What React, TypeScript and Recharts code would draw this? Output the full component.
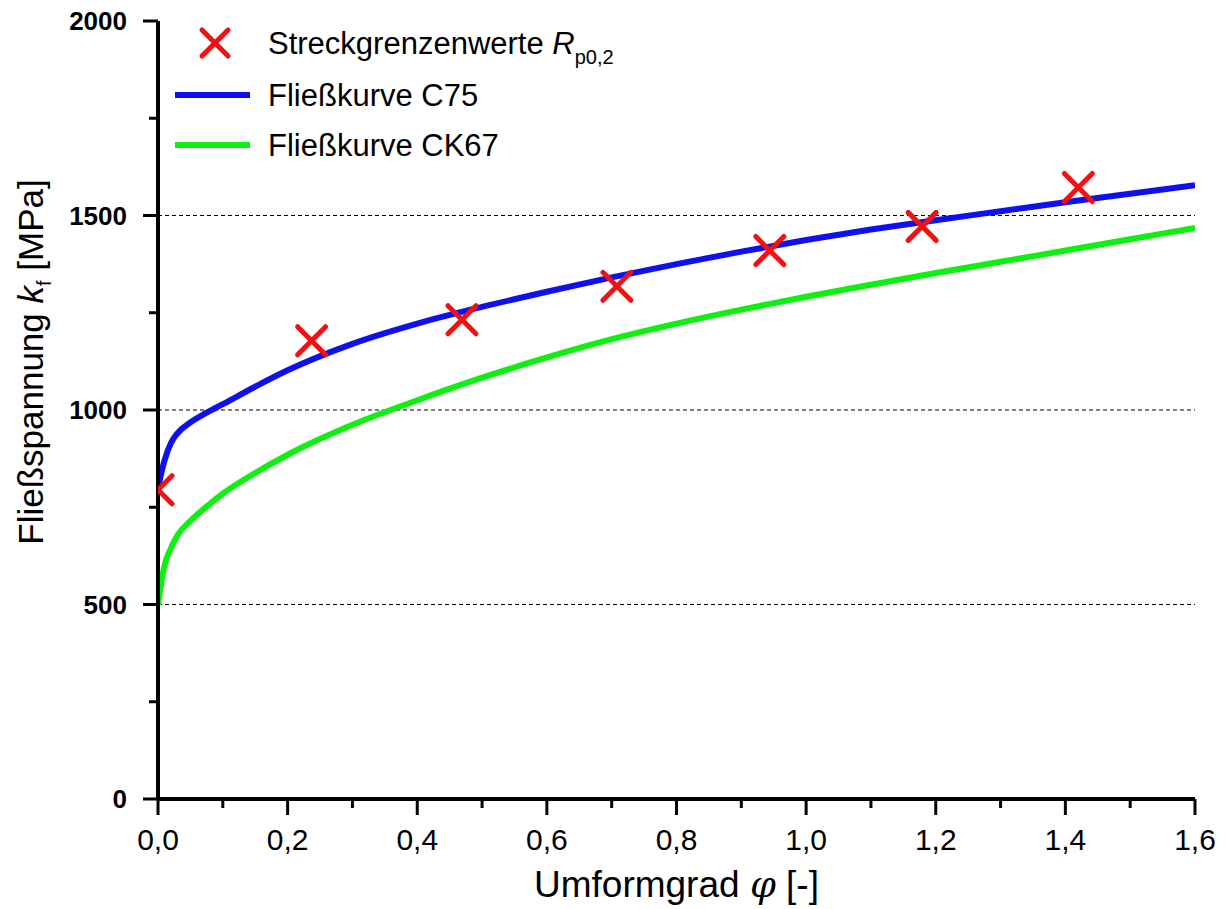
import React from 'react';
import {
  ComposedChart,
  Line,
  Scatter,
  XAxis,
  YAxis,
  ReferenceLine,
} from 'recharts';

// Umformgrad phi (x) for both flow curves
const phiCurve = [0, 0.01, 0.02, 0.03, 0.05, 0.075, 0.1, 0.15, 0.2, 0.3, 0.4, 0.5, 0.6, 0.7, 0.8, 0.9, 1.0, 1.1, 1.2, 1.3, 1.4, 1.5, 1.6];
const kfC75 = [800, 870, 915, 940, 968, 993, 1015, 1060, 1102, 1170, 1222, 1265, 1304, 1341, 1375, 1407, 1437, 1464, 1488, 1511, 1534, 1556, 1578];
const kfCK67 = [500, 600, 645, 678, 715, 752, 785, 838, 885, 962, 1025, 1083, 1135, 1182, 1222, 1258, 1291, 1322, 1352, 1381, 1410, 1439, 1468];

// Streckgrenzenwerte Rp0,2
const rpPhi = [0.0, 0.237, 0.469, 0.708, 0.944, 1.179, 1.42];
const rpVal = [795, 1178, 1232, 1318, 1410, 1472, 1572];

const xTicks = [0, 0.1, 0.2, 0.3, 0.4, 0.5, 0.6, 0.7, 0.8, 0.9, 1.0, 1.1, 1.2, 1.3, 1.4, 1.5, 1.6];
const yTicks = [0, 250, 500, 750, 1000, 1250, 1500, 1750, 2000];
const gridValues = [500, 1000, 1500];

const RED = '#f01212';
const BLUE = '#1010ee';
const GREEN = '#10f010';
const FONT = '"Liberation Sans", Arial, sans-serif';

const c75Data = phiCurve.map((p, i) => ({ phi: p, kf: kfC75[i] }));
const ck67Data = phiCurve.map((p, i) => ({ phi: p, kf: kfCK67[i] }));
const rpData = rpPhi.map((p, i) => ({ phi: p, kf: rpVal[i] }));

const Cross = ({ cx, cy, r = 14 }: any) => (
  <g stroke={RED} strokeWidth={5} strokeLinecap="round">
    <line x1={cx - r} y1={cy - r} x2={cx + r} y2={cy + r} />
    <line x1={cx - r} y1={cy + r} x2={cx + r} y2={cy - r} />
  </g>
);

const XTick = (props: any) => {
  const { x, y, payload } = props;
  const v = payload.value;
  const major = Math.round(v * 10) % 2 === 0;
  return (
    <g>
      <line x1={x} x2={x} y1={y} y2={y + (major ? 16 : 9)} stroke="#000" strokeWidth={3} />
      {major && (
        <text x={x} y={y + 51} textAnchor="middle" fontFamily={FONT} fontSize={30} fill="#000">
          {v.toFixed(1).replace('.', ',')}
        </text>
      )}
    </g>
  );
};

const YTick = (props: any) => {
  const { x, y, payload } = props;
  const v = payload.value;
  const major = v % 500 === 0;
  return (
    <g>
      <line x1={x - (major ? 15 : 9)} x2={x} y1={y} y2={y} stroke="#000" strokeWidth={3} />
      {major && (
        <text x={x - 31} y={y + 9} textAnchor="end" fontFamily={FONT} fontWeight="bold" fontSize={26} fill="#000">
          {v}
        </text>
      )}
    </g>
  );
};

const YTitle = ({ viewBox }: any) => {
  const cx = viewBox.x + 35;
  const cy = viewBox.y + viewBox.height / 2 - 48;
  return (
    <text transform={`translate(${cx},${cy}) rotate(-90)`} textAnchor="middle" fontFamily={FONT} fontSize={35} fill="#000">
      Fließspannung <tspan fontStyle="italic">k</tspan>
      <tspan fontSize={20} dy={8}>f</tspan>
      <tspan dy={-8}> [MPa]</tspan>
    </text>
  );
};

const XTitle = ({ viewBox }: any) => {
  const cx = viewBox.x + viewBox.width / 2;
  const cy = viewBox.y + 98;
  return (
    <text x={cx} y={cy} textAnchor="middle" fontFamily={FONT} fontSize={37} fill="#000">
      Umformgrad <tspan fontStyle="italic" fontFamily="'DejaVu Serif', serif">φ</tspan> [-]
    </text>
  );
};

const LegendBox = () => (
  <svg width={520} height={170} style={{ position: 'absolute', left: 150, top: 0, overflow: 'visible' }}>
    <Cross cx={57} cy={35} r={13} />
    <text x={110} y={46} fontFamily={FONT} fontSize={31} fill="#000">
      Streckgrenzenwerte <tspan fontStyle="italic">R</tspan>
      <tspan fontSize={20} dy={10}>p0,2</tspan>
    </text>
    <line x1={17} x2={92} y1={87} y2={87} stroke={BLUE} strokeWidth={6} />
    <text x={110} y={98} fontFamily={FONT} fontSize={31} fill="#000">Fließkurve C75</text>
    <line x1={17} x2={92} y1={137} y2={137} stroke={GREEN} strokeWidth={6} />
    <text x={110} y={148} fontFamily={FONT} fontSize={31} fill="#000">Fließkurve CK67</text>
  </svg>
);

export default function App() {
  return (
    <div style={{ position: 'relative', width: 1211, height: 901 }}>
      <ComposedChart width={1211} height={901} margin={{ top: 13, right: 24, left: 0, bottom: 8 }}>
        <XAxis
          dataKey="phi"
          type="number"
          domain={[0, 1.6]}
          ticks={xTicks}
          interval={0}
          allowDataOverflow
          height={102}
          tickSize={0}
          tickMargin={0}
          tick={<XTick />}
          axisLine={{ stroke: '#000', strokeWidth: 4 }}
          label={{ content: (p: any) => <XTitle {...p} /> }}
        />
        <YAxis
          dataKey="kf"
          type="number"
          domain={[0, 2000]}
          ticks={yTicks}
          interval={0}
          allowDataOverflow
          width={150}
          tickSize={0}
          tickMargin={0}
          tick={<YTick />}
          axisLine={{ stroke: '#000', strokeWidth: 4 }}
          label={{ content: (p: any) => <YTitle {...p} /> }}
        />
        {gridValues.map((v) => (
          <ReferenceLine key={v} y={v} stroke="#000" strokeWidth={1} strokeDasharray="4 3" />
        ))}
        <Scatter data={rpData} dataKey="kf" shape={<Cross />} isAnimationActive={false} />
        <Line data={c75Data} dataKey="kf" type="monotone" stroke={BLUE} strokeWidth={6} dot={false} isAnimationActive={false} />
        <Line data={ck67Data} dataKey="kf" type="monotone" stroke={GREEN} strokeWidth={6} dot={false} isAnimationActive={false} />
      </ComposedChart>
      <LegendBox />
    </div>
  );
}
